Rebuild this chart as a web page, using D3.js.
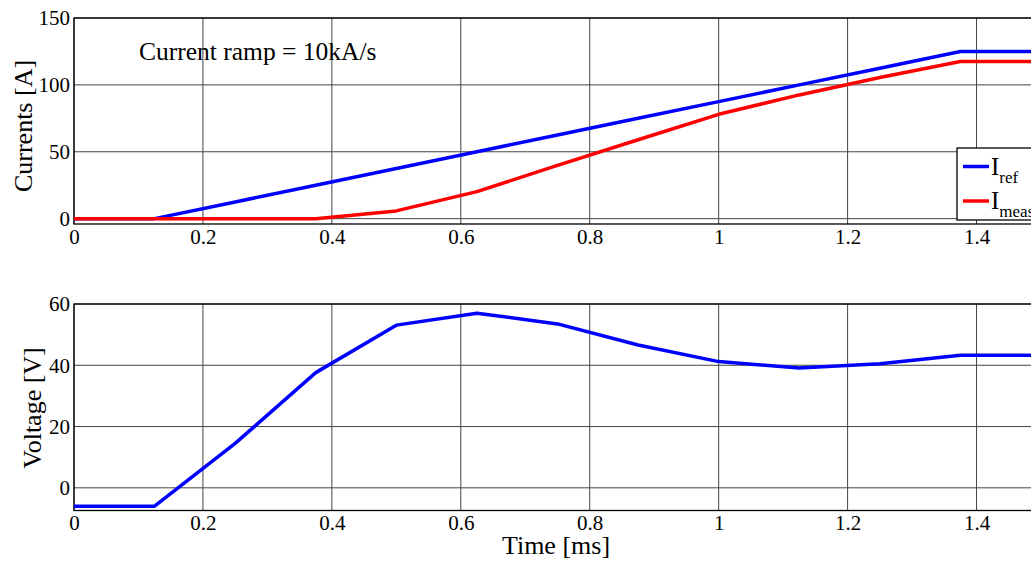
<!DOCTYPE html>
<html><head><meta charset="utf-8">
<script src="https://cdn.jsdelivr.net/npm/d3@7"></script>
<style>body{margin:0;background:#fff;overflow:hidden}svg{display:block}</style>
</head><body><svg id="c" width="1031" height="561"></svg>
<script>
const timeX = [0, 0.125, 0.25, 0.375, 0.5, 0.625, 0.75, 0.875, 1.0, 1.125, 1.25, 1.375, 1.5];
const iRef  = [0, 0, 12.5, 25, 37.5, 50, 62.5, 75, 87.5, 100, 112.5, 125, 125];
const iMeas = [0, 0, 0, 0, 5.8, 20.2, 39.8, 59, 78, 92.5, 105.5, 117.5, 117.5];
const voltage = [-6, -6, 14.5, 37.6, 53.1, 57.0, 53.5, 46.6, 41.2, 39.1, 40.5, 43.3, 43.3];
const xTicks = [0, 0.2, 0.4, 0.6, 0.8, 1, 1.2, 1.4];
const currTicks = [0, 50, 100, 150];
const voltTicks = [0, 20, 40, 60];

const FONT = "'Liberation Serif', 'Times New Roman', Times, serif";
const svg = d3.select("#c").style("font-family", FONT);
const x = d3.scaleLinear().domain([0, 1.5]).range([74, 1041]);

function panel(top, bottom, domain, ticks, series, ylabel, ylx, yly) {
  const y = d3.scaleLinear().domain(domain).range([bottom, top]);
  const g = svg.append("g");
  g.selectAll(".gx").data(xTicks).join("line")
    .attr("x1", d => x(d)).attr("x2", d => x(d)).attr("y1", top).attr("y2", bottom)
    .attr("stroke", "#444").attr("stroke-width", 1);
  g.selectAll(".gy").data(ticks).join("line")
    .attr("x1", 74).attr("x2", 1041).attr("y1", d => y(d)).attr("y2", d => y(d))
    .attr("stroke", "#444").attr("stroke-width", 1);
  g.append("rect").attr("x", 74).attr("y", top).attr("width", 1041 - 74).attr("height", bottom - top)
    .attr("fill", "none").attr("stroke", "#000").attr("stroke-width", 1.3);
  const xa = d3.axisBottom(x).tickValues(xTicks).tickSize(0).tickPadding(3).tickFormat(d3.format("~g"));
  const ya = d3.axisLeft(y).tickValues(ticks).tickSize(0).tickPadding(4);
  const gx = g.append("g").attr("transform", `translate(0,${bottom})`).call(xa);
  const gy = g.append("g").attr("transform", `translate(74,0)`).call(ya);
  [gx, gy].forEach(a => {
    a.attr("font-family", null).attr("font-size", null);
    a.select(".domain").remove();
    a.selectAll("text").style("font-size", "21px").style("font-family", FONT).attr("fill", "#000");
  });
  gx.selectAll("text").attr("dy", "0.8em");
  const line = d3.line().x((d, i) => x(timeX[i])).y(d => y(d));
  series.forEach(s => {
    g.append("path").datum(s.values).attr("d", line).attr("fill", "none")
      .attr("stroke", s.color).attr("stroke-width", 3.5).attr("stroke-linejoin", "round");
  });
  g.append("text").attr("transform", `translate(${ylx},${yly}) rotate(-90)`)
    .attr("text-anchor", "middle").style("font-size", "26px").style("font-family", FONT).text(ylabel);
  return y;
}

panel(18, 224, [-4, 150], currTicks,
  [{values: iRef, color: "#0000ff"}, {values: iMeas, color: "#ff0000"}], "Currents [A]", 32, 126);
panel(304, 510.5, [-7.4, 60], voltTicks,
  [{values: voltage, color: "#0000ff"}], "Voltage [V]", 41, 408);

svg.append("text").attr("x", 139).attr("y", 60).style("font-size", "25.5px").style("font-family", FONT).text("Current ramp = 10kA/s");
svg.append("text").attr("x", 556).attr("y", 554).attr("text-anchor", "middle").style("font-size", "26px").style("font-family", FONT).text("Time [ms]");

const lg = svg.append("g");
lg.append("rect").attr("x", 957).attr("y", 148).attr("width", 110).attr("height", 72)
  .attr("fill", "#fff").attr("stroke", "#000").attr("stroke-width", 1.3);
const leg = [{t: "I", s: "ref", c: "#0000ff", y: 166.5}, {t: "I", s: "meas", c: "#ff0000", y: 201}];
leg.forEach(d => {
  lg.append("line").attr("x1", 963).attr("x2", 989).attr("y1", d.y).attr("y2", d.y)
    .attr("stroke", d.c).attr("stroke-width", 3.5);
  const t = lg.append("text").attr("x", 991).attr("y", d.y + 8).style("font-size", "25px").style("font-family", FONT);
  t.append("tspan").text(d.t);
  t.append("tspan").attr("dy", 8).style("font-size", "17px").text(d.s);
});
</script></body></html>
